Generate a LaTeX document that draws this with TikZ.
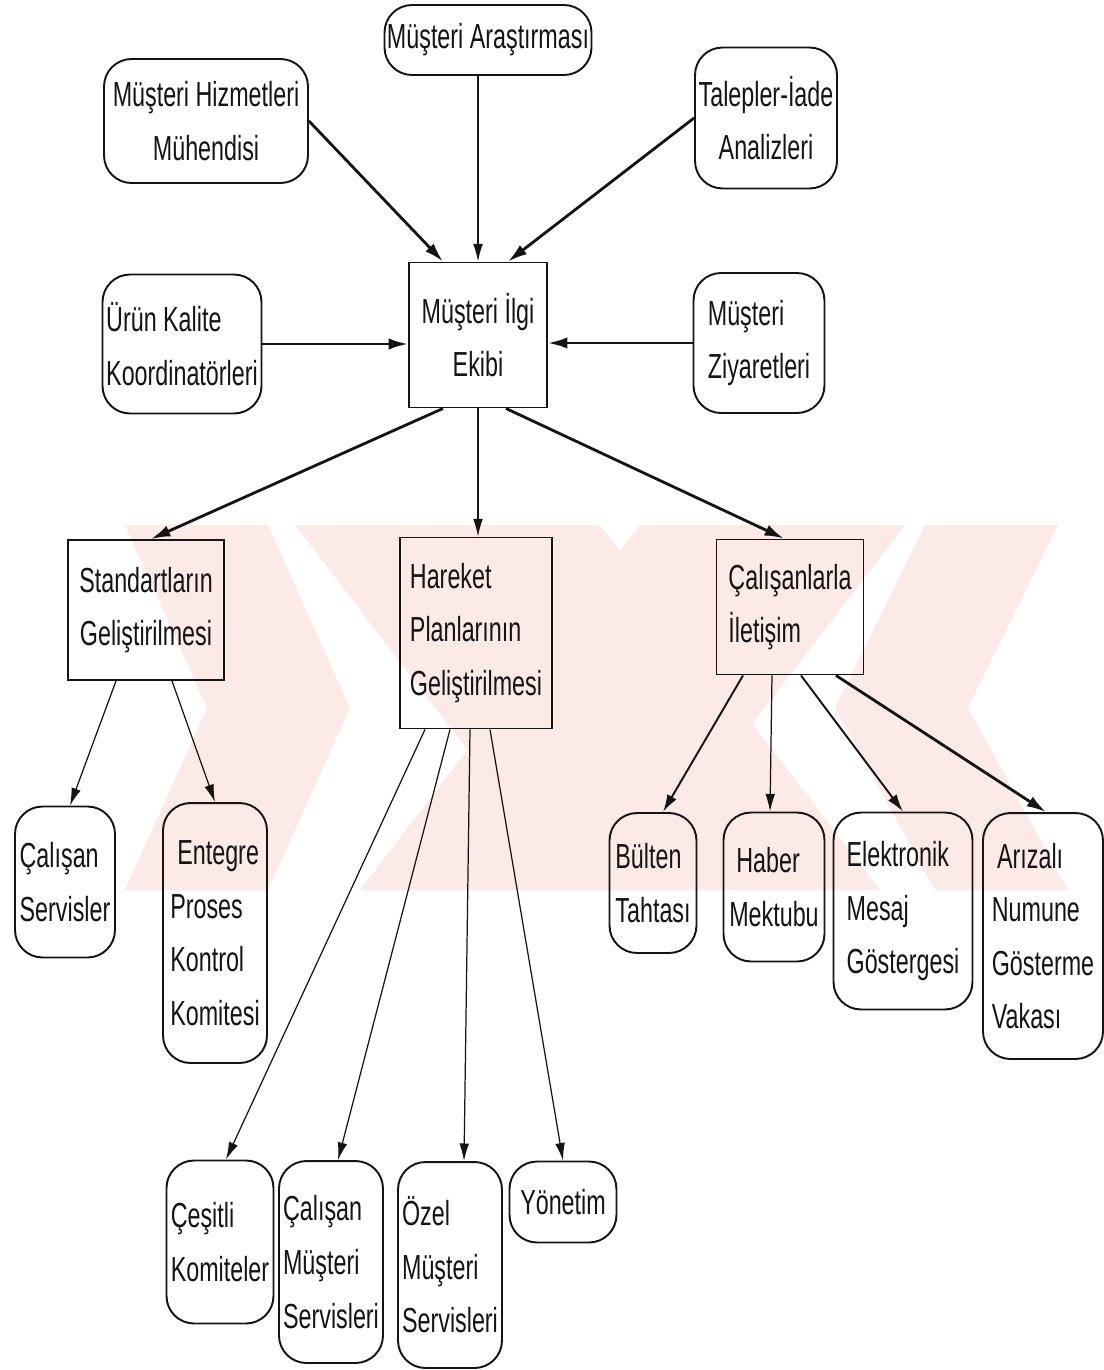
\documentclass[tikz,border=0pt]{standalone}
\usepackage{fontspec}
\setmainfont{Liberation Sans}[FakeStretch=0.67]
\usetikzlibrary{arrows.meta,calc}
\definecolor{wm}{RGB}{252,234,231}
\definecolor{ink}{RGB}{20,20,20}

\begin{document}
\begin{tikzpicture}[x=0.02cm,y=-0.02cm,
  font=\fontsize{19.8pt}{30.5pt}\selectfont,
  every node/.style={text=ink},
  rbox/.style={draw=ink, line width=1.1pt, rounded corners=0.55cm, inner sep=0pt},
  sbox/.style={draw=ink, line width=1.1pt, inner sep=0pt},
  thickarr/.style={draw=ink, -{Latex[length=11pt,width=6.5pt]}, line width=1.6pt},
  medarr/.style={draw=ink, -{Latex[length=10pt,width=6pt]}, line width=1.1pt},
  thinarr/.style={draw=ink, -{Latex[length=10pt,width=5.5pt]}, line width=0.7pt},
  wmark/.style={fill=wm, draw=none}]

\useasboundingbox (0,0) rectangle (1103,1370);
\fill[white] (0,0) rectangle (1103,1370);

% faint watermark
\fill[wmark] (125,525) -- (268,525) -- (350,708) -- (268,890) -- (125,890) -- (207,708) -- cycle;
\fill[wmark] (295,525) -- (600,525) -- (880,890) -- (575,890) -- cycle;
\fill[wmark] (640,525) -- (905,525) -- (625,890) -- (360,890) -- cycle;
\fill[wmark] (925,525) -- (1058,525) -- (968,708) -- (1068,890) -- (935,890) -- (835,708) -- cycle;

% top level
\node[rbox, minimum width=4.14cm, minimum height=1.4cm] (ara) at (488,40) {Müşteri Araştırması};
\node[rbox, minimum width=4.08cm, minimum height=2.48cm, align=center] (hiz) at (206,121) {Müşteri Hizmetleri\\Mühendisi};
\node[rbox, minimum width=2.84cm, minimum height=2.82cm, align=center] (tal) at (766,118) {Talepler-İade\\Analizleri};
\node[sbox, minimum width=2.76cm, minimum height=2.9cm, align=center] (c) at (478,335) {Müşteri İlgi\\Ekibi};
\node[rbox, minimum width=3.18cm, minimum height=2.78cm, align=left] (urun) at (182,344) {Ürün Kalite\\Koordinatörleri};
\node[rbox, minimum width=2.62cm, minimum height=2.8cm, align=left] (ziy) at (759,343) {Müşteri\\Ziyaretleri};

% second level
\node[sbox, minimum width=3.12cm, minimum height=2.8cm, align=center] (std) at (146,610) {Standartların\\Geliştirilmesi};
\node[sbox, minimum width=3.04cm, minimum height=3.82cm, align=left] (har) at (476,633) {Hareket\\Planlarının\\Geliştirilmesi};
\node[sbox, minimum width=2.94cm, minimum height=2.7cm, align=left] (cal) at (790,607) {Çalışanlarla\\İletişim};

% third level
\node[rbox, minimum width=2.0cm, minimum height=3.02cm, align=left] (cs) at (65,882) {Çalışan\\Servisler};
\node[rbox, minimum width=2.08cm, minimum height=5.2cm, align=left] (ent) at (215,933) {\hspace{4pt}Entegre\\Proses\\Kontrol\\Komitesi};
\node[rbox, minimum width=1.74cm, minimum height=2.8cm, align=left] (bul) at (653,883) {Bülten\\Tahtası};
\node[rbox, minimum width=2.02cm, minimum height=2.98cm, align=left] (hab) at (774,887) {\hspace{4pt}Haber\\Mektubu};
\node[rbox, minimum width=2.78cm, minimum height=3.94cm, align=left] (elk) at (903,911) {Elektronik\\Mesaj\\Göstergesi};
\node[rbox, minimum width=2.4cm, minimum height=4.92cm, align=left] (ari) at (1043,936) {\hspace{3pt}Arızalı\\Numune\\Gösterme\\Vakası};

% fourth level
\node[rbox, minimum width=2.14cm, minimum height=3.26cm, align=left] (ces) at (220,1242) {Çeşitli\\Komiteler};
\node[rbox, minimum width=2.08cm, minimum height=4.04cm, align=left] (cms) at (331,1262) {Çalışan\\Müşteri\\Servisleri};
\node[rbox, minimum width=2.08cm, minimum height=4.12cm, align=left] (oz) at (450,1265) {Özel\\Müşteri\\Servisleri};
\node[rbox, minimum width=2.14cm, minimum height=1.62cm] (yon) at (563,1202) {Yönetim};

% connectors into the centre
\draw[thickarr] (hiz.east) -- ($(c.north)+(-35,0)$);
\draw[thinarr] (c.north |- ara.south) -- (c.north);
\draw[thickarr] (tal.west) -- ($(c.north)+(30,0)$);
\draw[thickarr] (urun.east) -- (c.west |- urun.east);
\draw[thickarr] (ziy.west) -- (c.east |- ziy.west);

% centre to second level
\draw[thickarr] ($(c.south)+(-35,0)$) -- ($(std.north)+(5,0)$);
\draw[thinarr] (c.south) -- (c.south |- har.north);
\draw[thickarr] ($(c.south)+(28,0)$) -- ($(cal.north)+(-6,0)$);

% standards
\draw[thinarr] ($(std.south)+(-30,0)$) -- ($(cs.north)+(5,0)$);
\draw[thinarr] ($(std.south)+(26,0)$) -- (ent.north);

% action plans
\draw[thinarr] ($(har.south)+(-51,0)$) -- ($(ces.north)+(6,0)$);
\draw[thinarr] ($(har.south)+(-26,0)$) -- ($(cms.north)+(7,0)$);
\draw[thinarr] ($(har.south)+(-6,0)$) -- ($(oz.north)+(14,0)$);
\draw[thinarr] ($(har.south)+(14,0)$) -- (yon.north);

% communication
\draw[medarr] ($(cal.south)+(-47,0)$) -- ($(bul.north)+(10,0)$);
\draw[thinarr] ($(cal.south)+(-18,0)$) -- ($(hab.north)+(-4,0)$);
\draw[medarr] ($(cal.south)+(11,0)$) -- (elk.north);
\draw[thickarr] ($(cal.south)+(46,0)$) -- ($(ari.north)+(3,0)$);
\end{tikzpicture}
\end{document}
